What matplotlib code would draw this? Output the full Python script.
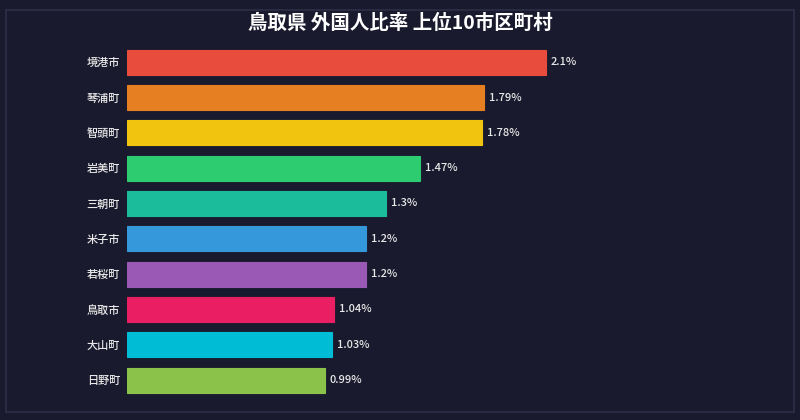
import matplotlib.pyplot as plt
from matplotlib.patches import Rectangle

plt.rcParams['font.family'] = ['Noto Sans CJK JP', 'DejaVu Sans']

# データ（鳥取県 外国人比率 上位10）
names = ["境港市", "琴浦町", "智頭町", "岩美町", "三朝町", "米子市", "若桜町", "鳥取市", "大山町", "日野町"]
ratios = [2.1, 1.79, 1.78, 1.47, 1.3, 1.2, 1.2, 1.04, 1.03, 0.99]
labels = ["2.1%", "1.79%", "1.78%", "1.47%", "1.3%", "1.2%", "1.2%", "1.04%", "1.03%", "0.99%"]
colors = ["#e74c3c", "#e67e22", "#f1c40f", "#2ecc71", "#1abc9c",
          "#3498db", "#9b59b6", "#e91e63", "#00bcd4", "#8bc34a"]

bg = "#1a1a2e"
fig = plt.figure(figsize=(8, 4.2), dpi=100, facecolor=bg)
# 外枠
fig.patches.append(Rectangle((6 / 800, 8 / 420), 788 / 800, 402 / 420, transform=fig.transFigure,
                             fill=False, edgecolor="#2e2e48", linewidth=1.2))

ax = fig.add_axes([127 / 800, 0.053, 0.798, 0.841])
ax.set_facecolor(bg)
ypos = list(range(len(names)))
ax.barh(ypos, ratios, height=0.71, color=colors, edgecolor=colors, linewidth=0.8)
for y, v, t in zip(ypos, ratios, labels):
    ax.text(v + 0.025, y, t, va="center", ha="left", color="#e8e8e8", fontsize=8, fontweight="medium")

ax.set_xlim(0, 3.2)
ax.set_ylim(9.5, -0.5)
ax.set_yticks(ypos)
ax.set_yticklabels(names, color="#e8e8e8", fontsize=8, fontweight="medium")
ax.tick_params(axis="y", length=0, pad=5)
ax.set_xticks([])
for s in ax.spines.values():
    s.set_visible(False)

fig.text(0.5, 0.945, "鳥取県 外国人比率 上位10市区町村", ha="center", va="center",
         color="white", fontsize=14, fontweight="bold")

fig.savefig("out.png", dpi=100, facecolor=bg)
